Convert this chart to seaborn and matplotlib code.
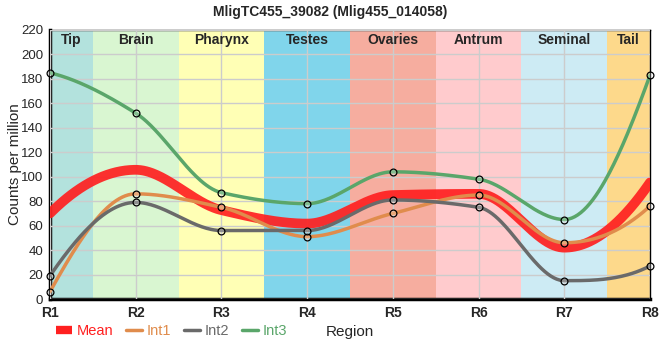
import numpy as np
import pandas as pd
import matplotlib
matplotlib.use("Agg")
import matplotlib.pyplot as plt
import seaborn as sns
from matplotlib.lines import Line2D

# Values
regions = ["R1", "R2", "R3", "R4", "R5", "R6", "R7", "R8"]
tissues = ["Tip", "Brain", "Pharynx", "Testes", "Ovaries", "Antrum", "Seminal", "Tail"]
tissue_colors = ["#b3e2dd", "#d9f6d1", "#ffffb5", "#80d5eb", "#f6ad9f",
                 "#ffcbcd", "#cdebf4", "#fdd98b"]
int1 = [6, 86, 75, 51, 70, 85, 46, 76]
int2 = [19, 79, 56, 56, 81, 75, 15, 27]
int3 = [185, 152, 87, 78, 104, 98, 65, 183]
mean = list(np.mean([int1, int2, int3], axis=0))

series_colors = {"Mean": "#ff2020", "Int1": "#e08c4c", "Int2": "#6a6a6a", "Int3": "#5aa66a"}


def pchip(x, y, xs):
    """Monotone cubic (Fritsch-Carlson) curve through the points, for drawing."""
    x = np.asarray(x, float)
    y = np.asarray(y, float)
    h = np.diff(x)
    delta = np.diff(y) / h
    n = len(x)
    d = np.zeros(n)
    for k in range(1, n - 1):
        if delta[k - 1] * delta[k] > 0:
            w1 = 2 * h[k] + h[k - 1]
            w2 = h[k] + 2 * h[k - 1]
            d[k] = (w1 + w2) / (w1 / delta[k - 1] + w2 / delta[k])
    # end slopes
    for k, (a, b, ha, hb) in [(0, (delta[0], delta[1], h[0], h[1])),
                              (n - 1, (delta[-1], delta[-2], h[-1], h[-2]))]:
        s = ((2 * ha + hb) * a - ha * b) / (ha + hb)
        if np.sign(s) != np.sign(a):
            s = 0
        elif np.sign(a) != np.sign(b) and abs(s) > abs(3 * a):
            s = 3 * a
        d[k] = s
    idx = np.clip(np.searchsorted(x, xs) - 1, 0, n - 2)
    t = (xs - x[idx]) / h[idx]
    h00 = 2 * t**3 - 3 * t**2 + 1
    h10 = t**3 - 2 * t**2 + t
    h01 = -2 * t**3 + 3 * t**2
    h11 = t**3 - t**2
    return h00 * y[idx] + h10 * h[idx] * d[idx] + h01 * y[idx + 1] + h11 * h[idx] * d[idx + 1]


sns.set_style("white")
plt.rcParams["font.family"] = ["Liberation Sans", "DejaVu Sans"]

fig = plt.figure(figsize=(6.6, 3.6), dpi=100)
ax = fig.add_axes([50 / 660, 1 - 299 / 360, 600 / 660, 269 / 360])

pos = np.arange(len(regions))
# tissue bands
for i, (name, col) in enumerate(zip(tissues, tissue_colors)):
    lo = max(i - 0.5, 0)
    hi = min(i + 0.5, len(regions) - 1)
    ax.axvspan(lo, hi, color=col, lw=0, zorder=0)
    ax.text((lo + hi) / 2, 212, name, ha="center", va="center",
            fontsize=10, fontweight="bold", zorder=5)

xs = np.linspace(0, len(regions) - 1, 400)
curves = []
for name, vals in [("Mean", mean), ("Int1", int1), ("Int2", int2), ("Int3", int3)]:
    curves.append(pd.DataFrame({"x": xs, "y": pchip(pos, vals, xs), "series": name}))
curve_df = pd.concat(curves)

sns.lineplot(data=curve_df[curve_df.series == "Mean"], x="x", y="y", color=series_colors["Mean"],
             lw=7, alpha=0.92, ax=ax, zorder=3, legend=False)
for name in ["Int1", "Int2", "Int3"]:
    sns.lineplot(data=curve_df[curve_df.series == name], x="x", y="y", color=series_colors[name],
                 lw=2.5, ax=ax, zorder=4, legend=False)

pts = pd.DataFrame({"x": np.tile(pos, 3), "y": int1 + int2 + int3})
sns.scatterplot(data=pts, x="x", y="y", s=24, facecolor="#ffffff40", edgecolor="black",
                linewidth=0.9, ax=ax, zorder=6, clip_on=False)

ax.set_xlim(0, len(regions) - 1)
ax.set_ylim(0, 220)
ax.set_yticks(range(0, 221, 20))
ax.set_xticks(pos)
ax.set_xticklabels(regions, fontweight="bold", fontsize=10)
ax.tick_params(axis="y", labelsize=9.5, length=3, width=1, pad=2)
ax.tick_params(axis="x", length=3, width=1, pad=2)
ax.grid(True, color="#cccccc", lw=1, zorder=1)
ax.set_axisbelow(False)
for line in ax.get_xgridlines() + ax.get_ygridlines():
    line.set_zorder(1)
for side in ["top", "right"]:
    ax.spines[side].set_linewidth(1)
    ax.spines[side].set_color("black")
for side in ["left", "bottom"]:
    ax.spines[side].set_linewidth(2.5)
    ax.spines[side].set_color("black")

ax.set_ylabel("Counts per million", fontsize=11)
ax.yaxis.set_label_coords(-0.047, 0.5)
ax.set_xlabel("Region", fontsize=11)
ax.xaxis.set_label_coords(0.5, -0.098)

fig.suptitle("MligTC455_39082 (Mlig455_014058)", fontsize=10, fontweight="bold", y=0.985)

handles = [Line2D([], [], color=series_colors["Mean"], lw=6, solid_capstyle="butt")]
handles += [Line2D([], [], color=series_colors[n], lw=2.5) for n in ["Int1", "Int2", "Int3"]]
leg = fig.legend(handles, ["Mean", "Int1", "Int2", "Int3"], loc="center left",
                 bbox_to_anchor=(50 / 660, 1 - 331 / 360), ncol=4, frameon=False,
                 fontsize=10.5, handlelength=1.1, handletextpad=0.3, columnspacing=0.9,
                 borderaxespad=0)
for txt, n in zip(leg.get_texts(), ["Mean", "Int1", "Int2", "Int3"]):
    txt.set_color(series_colors[n])

fig.savefig("out.png", dpi=100)
